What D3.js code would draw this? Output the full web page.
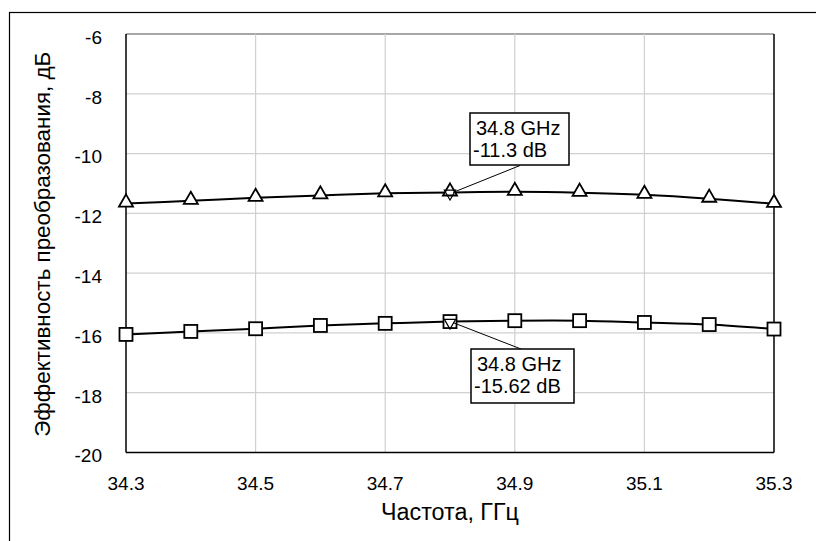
<!DOCTYPE html>
<html>
<head>
<meta charset="utf-8">
<script src="https://cdn.jsdelivr.net/npm/d3@7"></script>
<style>
  html, body { margin: 0; padding: 0; background: #fff; }
  svg { display: block; font-family: "Liberation Sans", Arial, sans-serif; }
</style>
</head>
<body>
<svg id="chart" width="816" height="541"></svg>
<script>
// ---- data ----
const freqs = [34.3, 34.4, 34.5, 34.6, 34.7, 34.8, 34.9, 35.0, 35.1, 35.2, 35.3];
const upperSeries = [-11.67, -11.58, -11.48, -11.40, -11.33, -11.30, -11.28, -11.31, -11.38, -11.51, -11.68];
const lowerSeries = [-16.05, -15.95, -15.86, -15.75, -15.68, -15.62, -15.59, -15.59, -15.65, -15.72, -15.87];
const xTicks = [34.3, 34.5, 34.7, 34.9, 35.1, 35.3];
const yTicks = [-6, -8, -10, -12, -14, -16, -18, -20];
const annotations = [
  { x: 34.8, y: -11.3, lines: ["34.8 GHz", "-11.3 dB"], series: "upper" },
  { x: 34.8, y: -15.62, lines: ["34.8 GHz", "-15.62 dB"], series: "lower" }
];
const xTitle = "Частота, ГГц";
const yTitle = "Эффективность преобразования, дБ";

// ---- layout ----
const svg = d3.select("#chart");
const L = 126, R = 774, T = 34, B = 452.5;
const x = d3.scaleLinear().domain([34.3, 35.3]).range([L, R]);
const y = d3.scaleLinear().domain([-20, -6]).range([B, T]);

// outer frame
svg.append("rect").attr("x", 9.5).attr("y", 12.5).attr("width", 900).attr("height", 600)
  .attr("fill", "none").attr("stroke", "#000").attr("stroke-width", 1.2);

// gridlines
const grid = svg.append("g");
grid.selectAll("line.h").data(yTicks.filter(d => d > -20)).join("line")
  .attr("x1", L).attr("x2", R).attr("y1", d => y(d)).attr("y2", d => y(d))
  .attr("stroke", d => d === -6 ? "#8a8a8a" : "#d0d0d0").attr("stroke-width", d => d === -6 ? 1.5 : 1.2);
grid.selectAll("line.v").data(xTicks.filter(d => d > 34.3 && d < 35.3)).join("line")
  .attr("y1", T).attr("y2", B).attr("x1", d => x(d)).attr("x2", d => x(d))
  .attr("stroke", "#d0d0d0").attr("stroke-width", 1.2);

// axes borders
svg.append("line").attr("x1", L).attr("x2", L).attr("y1", T).attr("y2", B).attr("stroke", "#000").attr("stroke-width", 1.5);
svg.append("line").attr("x1", L).attr("x2", R).attr("y1", B).attr("y2", B).attr("stroke", "#000").attr("stroke-width", 1.5);
svg.append("line").attr("x1", R).attr("x2", R).attr("y1", T).attr("y2", B).attr("stroke", "#000").attr("stroke-width", 1.5);

// tick labels
svg.append("g").selectAll("text").data(yTicks).join("text")
  .attr("x", 102).attr("y", d => y(d)).attr("dy", "0.52em")
  .attr("text-anchor", "end").attr("font-size", 19).attr("fill", "#000")
  .text(d => d);
svg.append("g").selectAll("text").data(xTicks).join("text")
  .attr("x", d => x(d)).attr("y", 490)
  .attr("text-anchor", "middle").attr("font-size", 19).attr("fill", "#000")
  .text(d => d.toFixed(1));

// titles
svg.append("text").attr("x", (L + R) / 2).attr("y", 520).attr("text-anchor", "middle")
  .attr("font-size", 23.3).text(xTitle);
svg.append("text").attr("transform", `translate(50,${(T + B) / 2 + 1}) rotate(-90)`)
  .attr("text-anchor", "middle").attr("font-size", 22.4).text(yTitle);

// lines
const line = d3.line().x((d, i) => x(freqs[i])).y(d => y(d)).curve(d3.curveCatmullRom.alpha(0.5));
svg.append("path").datum(upperSeries).attr("d", line).attr("fill", "none").attr("stroke", "#000").attr("stroke-width", 2);
svg.append("path").datum(lowerSeries).attr("d", line).attr("fill", "none").attr("stroke", "#000").attr("stroke-width", 2);

// markers
const tri = d3.symbol().type(d3.symbolTriangle).size(85);
svg.append("g").selectAll("path").data(upperSeries).join("path")
  .attr("transform", (d, i) => `translate(${x(freqs[i])},${y(d) - 1})`)
  .attr("d", tri).attr("fill", "#fff").attr("stroke", "#000").attr("stroke-width", 1.8);
svg.append("g").selectAll("rect").data(lowerSeries).join("rect")
  .attr("x", (d, i) => x(freqs[i]) - 6.5).attr("y", d => y(d) - 6.5)
  .attr("width", 13).attr("height", 13)
  .attr("fill", "#fff").attr("stroke", "#000").attr("stroke-width", 1.8);

// annotation markers (inverted triangles) at marked points
const invTri = d3.symbol().type(d3.symbolTriangle).size(55);
svg.append("g").selectAll("path").data(annotations).join("path")
  .attr("transform", d => `translate(${x(d.x)},${y(d.y) + 1}) rotate(180)`)
  .attr("d", invTri).attr("fill", "none").attr("stroke", "#000").attr("stroke-width", 1.2);

// annotation boxes
const boxes = [
  { bx: 470, by: 113, bw: 99, bh: 52, ax: 520, ay: 165.5 },
  { bx: 471, by: 349, bw: 103, bh: 54, ax: 521, ay: 349 }
];
annotations.forEach((a, i) => {
  const b = boxes[i];
  const g = svg.append("g");
  g.append("line").attr("x1", x(a.x) + 3).attr("y1", y(a.y) + (i === 0 ? 0 : 1))
    .attr("x2", b.ax).attr("y2", b.ay).attr("stroke", "#000").attr("stroke-width", 1);
  g.append("rect").attr("x", b.bx).attr("y", b.by).attr("width", b.bw).attr("height", b.bh)
    .attr("fill", "#fff").attr("stroke", "#000").attr("stroke-width", 1.5);
  g.selectAll("text").data(a.lines).join("text")
    .attr("x", (d, j) => j === 0 ? b.bx + 6 : b.bx + 3)
    .attr("y", (d, j) => b.by + 22 + j * 22.3)
    .attr("font-size", 20).text(d => d);
});
</script>
</body>
</html>
